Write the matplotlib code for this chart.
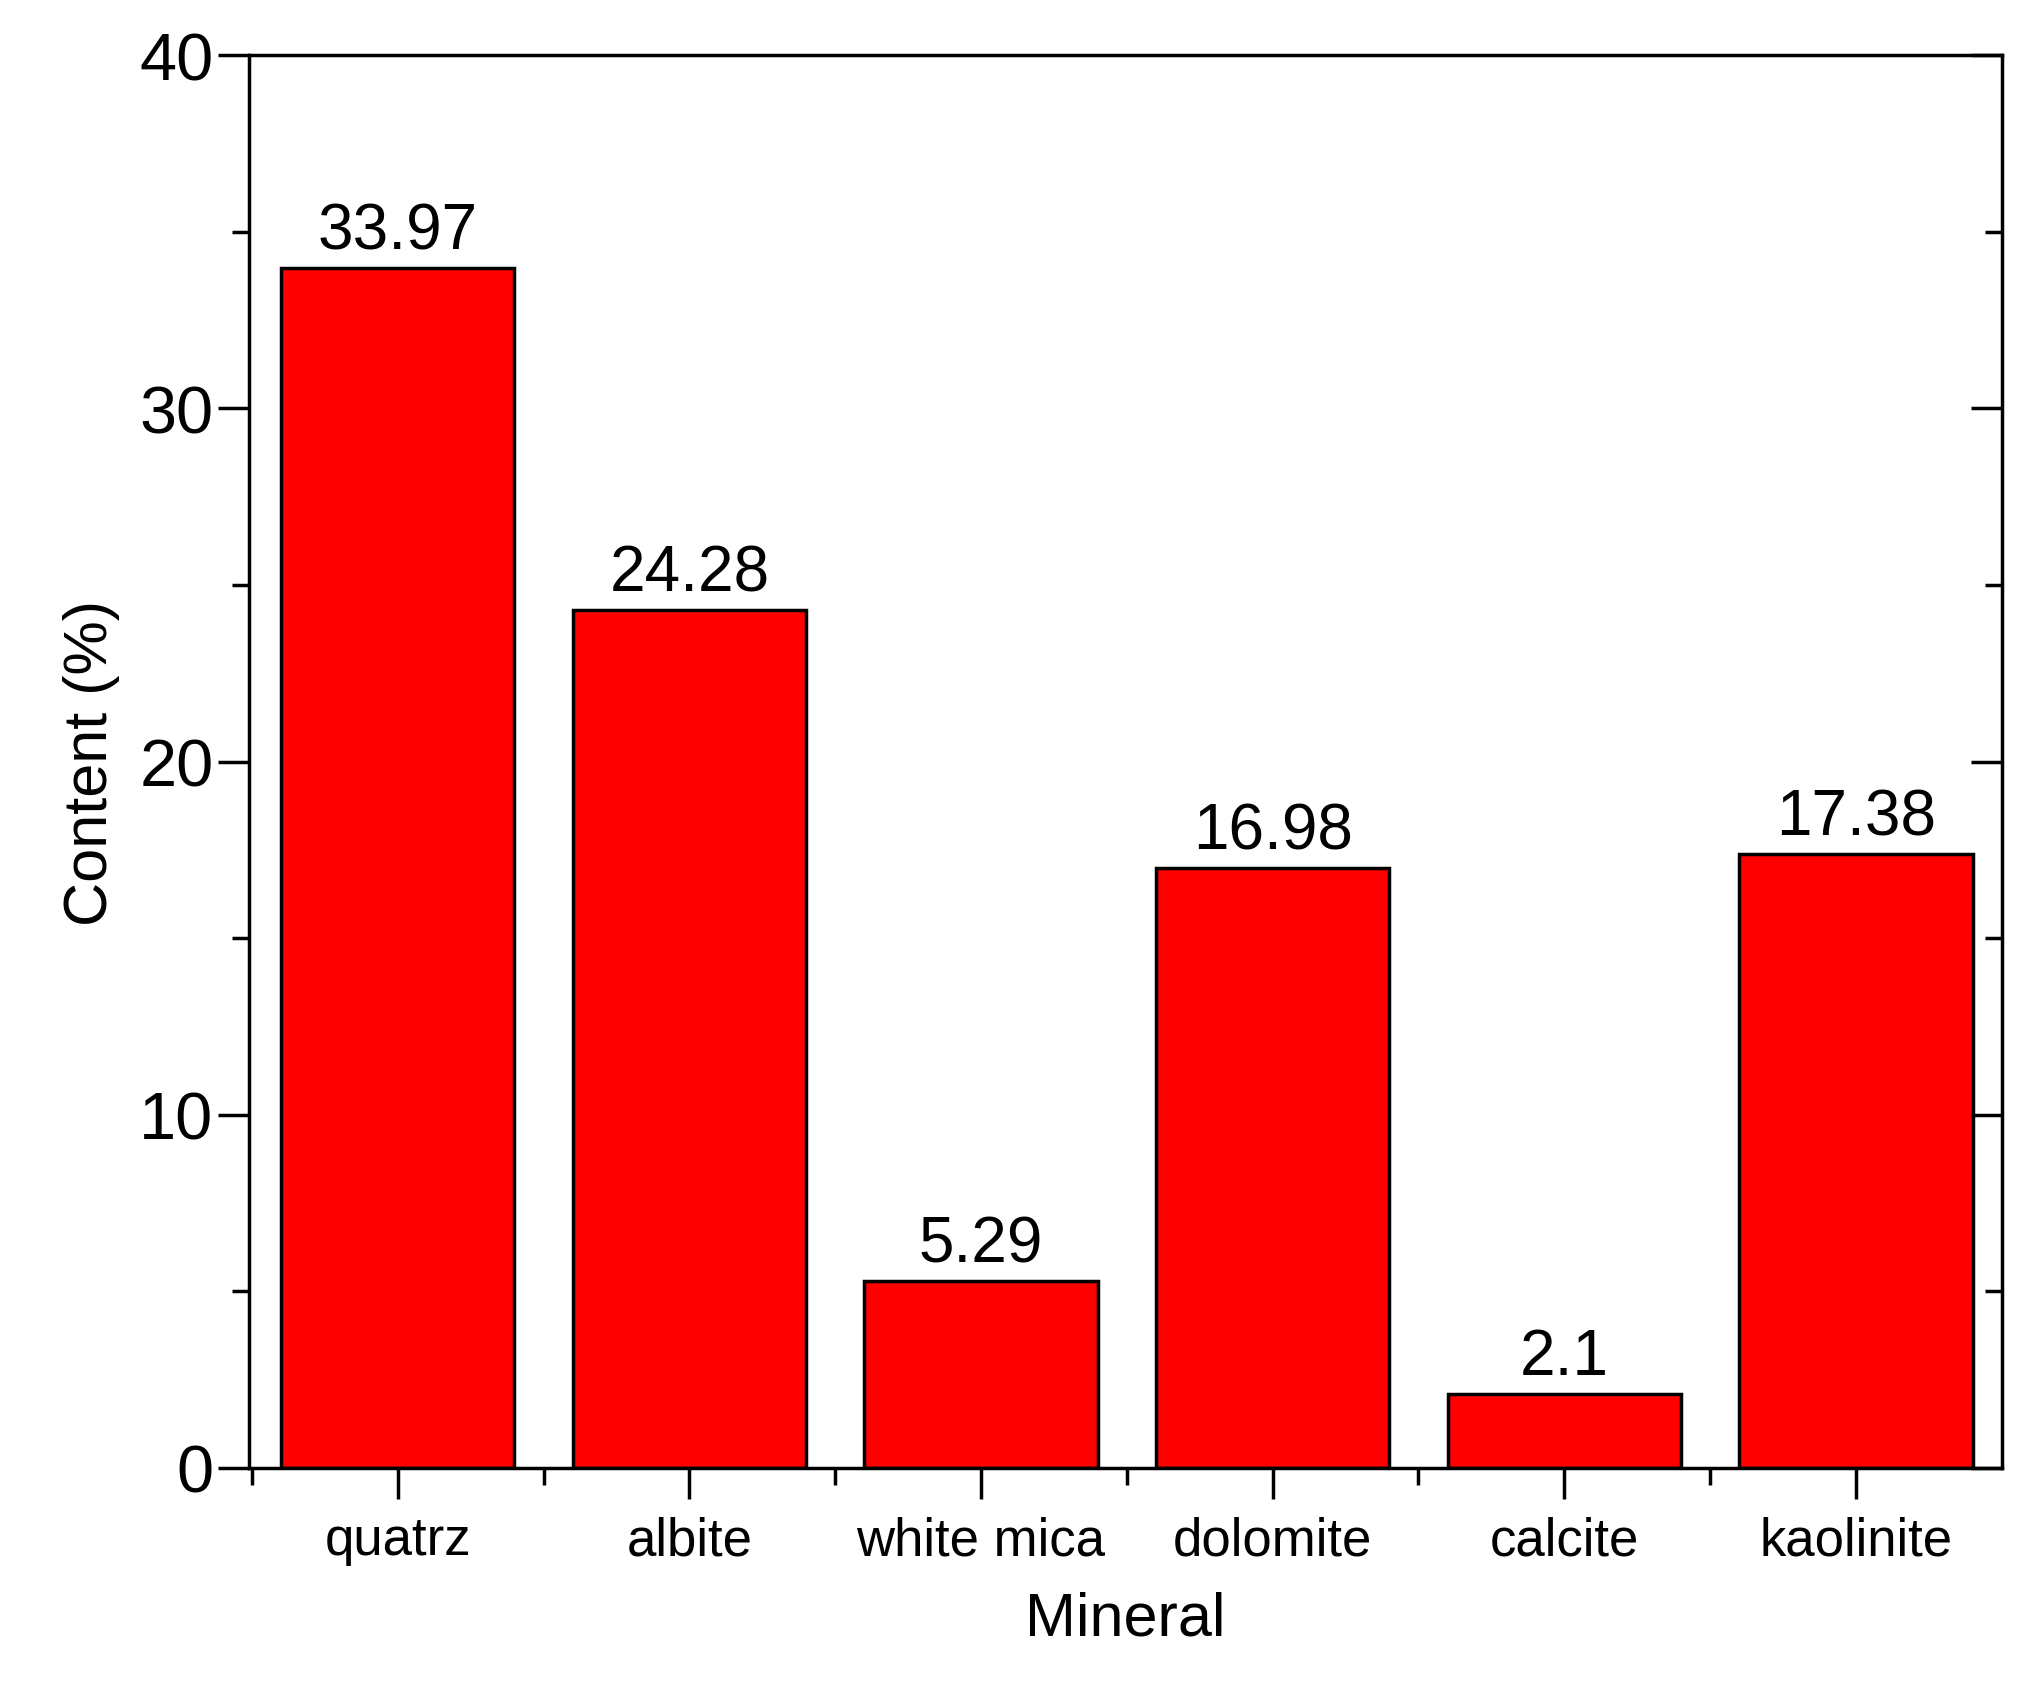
import matplotlib
matplotlib.use("Agg")
import matplotlib.pyplot as plt
from matplotlib.ticker import MultipleLocator, FixedLocator

minerals = ["quatrz", "albite", "white mica", "dolomite", "calcite", "kaolinite"]
content = [33.97, 24.28, 5.29, 16.98, 2.1, 17.38]
value_labels = ["33.97", "24.28", "5.29", "16.98", "2.1", "17.38"]

plt.rcParams['font.family'] = ['Liberation Sans', 'DejaVu Sans']

fig = plt.figure(figsize=(20.24, 17.08), dpi=100)
ax = fig.add_axes([0.123, 0.14, 0.866, 0.827])

pos = list(range(len(minerals)))
ax.bar(pos, content, width=0.8, color="#ff0000", edgecolor="black", linewidth=2.5)
for x, v, lab in zip(pos, content, value_labels):
    ax.text(x, v + 0.2, lab, ha="center", va="bottom", fontsize=46)

ax.set_xlim(-0.51, 5.5)
ax.set_ylim(0, 40)
ax.set_xticks(pos)
ax.set_xticklabels(minerals, fontsize=38)
ax.xaxis.set_minor_locator(FixedLocator([p + 0.5 for p in pos[:-1]] + [-0.5]))
ax.yaxis.set_major_locator(MultipleLocator(10))
ax.yaxis.set_minor_locator(MultipleLocator(5))
ax.tick_params(axis="y", which="major", labelsize=48, length=22, width=2.5, direction="out", right=True)
ax.tick_params(axis="y", which="minor", length=12, width=2.5, direction="out", right=True)
ax.tick_params(axis="x", which="major", length=22, width=2.5, direction="out", pad=12)
ax.tick_params(axis="x", which="minor", length=12, width=2.5, direction="out")
for t in ax.yaxis.get_major_ticks() + ax.yaxis.get_minor_ticks():
    t.tick2line.set_marker(matplotlib.lines.TICKLEFT)
for s in ax.spines.values():
    s.set_linewidth(2.5)

ax.set_xlabel("Mineral", fontsize=44, labelpad=18)
ax.set_ylabel("Content (%)", fontsize=44, labelpad=14)

fig.savefig("out.png", dpi=100)
